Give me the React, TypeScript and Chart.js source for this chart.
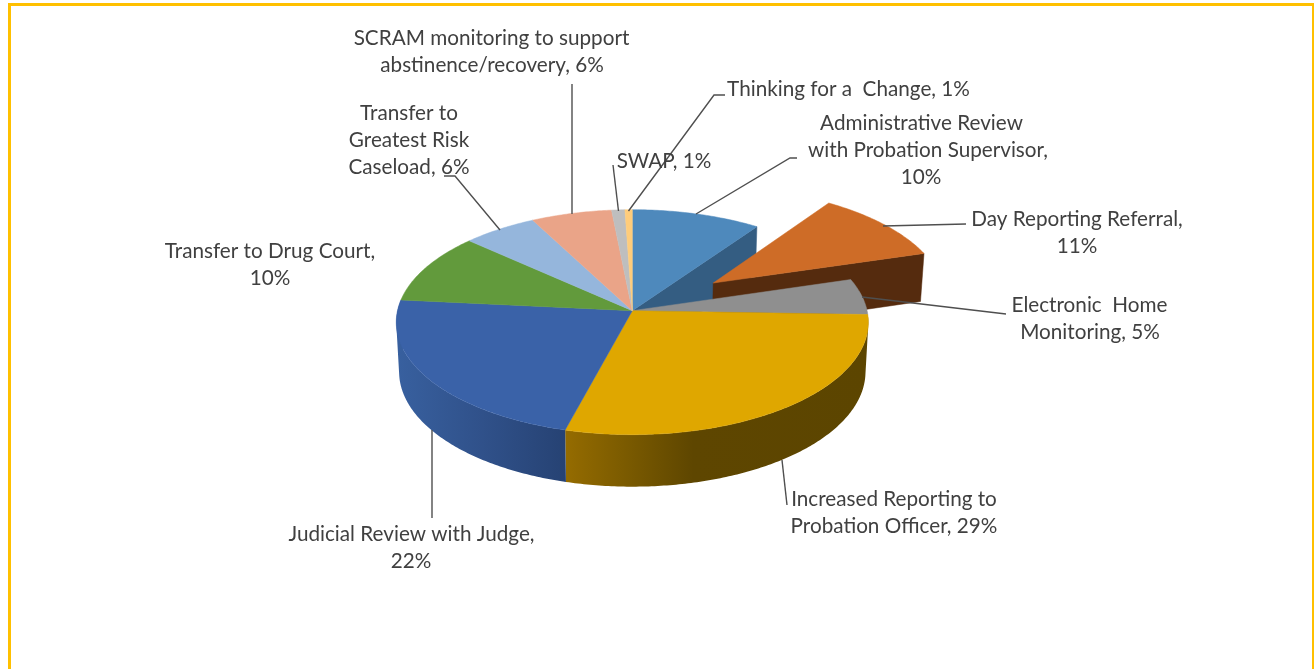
import React, { useEffect, useRef } from "react";
import { Chart, registerables } from "chart.js";

Chart.register(...registerables);

const categories = [
  "Administrative Review with Probation Supervisor",
  "Day Reporting Referral",
  "Electronic Home Monitoring",
  "Increased Reporting to Probation Officer",
  "Judicial Review with Judge",
  "Transfer to Drug Court",
  "Transfer to Greatest Risk Caseload",
  "SCRAM monitoring to support abstinence/recovery",
  "SWAP",
  "Thinking for a Change",
];
const shares = [9.75, 10.6, 5.2, 28.6, 22.4, 10.15, 5.65, 6.1, 1.0, 0.55];
const topColors = ["#4E89BC", "#CE6C27", "#8F8F8F", "#DFA700", "#3A62A8", "#629A3C", "#95B6DC", "#EAA488", "#BEBEBE", "#FFCC7A"];
const explodeAmount = [0, 0.436, 0, 0, 0, 0, 0, 0, 0, 0];

// Label text, line by line: [text, centre x, baseline y]
const labelLines: [string, number, number][] = [
  ["SCRAM monitoring to support", 491.5, 45],
  ["abstinence/recovery, 6%", 492, 72],
  ["Transfer to", 409, 120],
  ["Greatest Risk", 409, 147],
  ["Caseload, 6%", 409, 174],
  ["SWAP, 1%", 664, 168],
  ["Thinking for a  Change, 1%", 848.5, 96],
  ["Administrative Review", 921.5, 130],
  ["with Probation Supervisor,", 928, 157],
  ["10%", 921, 184],
  ["Day Reporting Referral,", 1077, 226],
  ["11%", 1077, 253],
  ["Electronic  Home", 1089.5, 312],
  ["Monitoring, 5%", 1090, 339],
  ["Increased Reporting to", 894, 506],
  ["Probation Officer, 29%", 894, 533],
  ["Judicial Review with Judge,", 411.5, 541],
  ["22%", 411, 568],
  ["Transfer to Drug Court,", 270, 258],
  ["10%", 270, 285],
];

const leaders: [number, number][][] = [
  [[696, 214], [790, 158], [797, 158]],
  [[883, 226], [966, 224]],
  [[862, 297], [1006, 314]],
  [[782, 460], [787, 505]],
  [[432, 430], [432, 518]],
  [[444, 176], [455, 176], [500, 230]],
  [[572, 84], [572, 214]],
  [[613, 165], [618.5, 211]],
  [[628.5, 211], [714, 95], [725, 95]],
];

// Camera of the tilted pie
const APEX = { x: 632.3, y: 310.7 };
const PERSP = 0.102;
const AY = 111.3;
const BX = 234.8;
const BOTTOM = { sx: 0.988, sy: 1.022, dy: 49.3 };

type P = [number, number];

function project(u: number, v: number, low: boolean): P {
  const w = 1 - PERSP * v;
  let x = (BX * u) / w;
  let y = (AY * v) / w;
  if (low) {
    x *= BOTTOM.sx;
    y = y * BOTTOM.sy + BOTTOM.dy;
  }
  return [APEX.x + x, APEX.y + y];
}

function rimPoints(a0: number, a1: number, cu: number, cv: number, low: boolean): P[] {
  const pts: P[] = [];
  const n = Math.max(2, Math.ceil(Math.abs(a1 - a0) / 0.012));
  for (let i = 0; i <= n; i++) {
    const a = a0 + ((a1 - a0) * i) / n;
    pts.push(project(cu + Math.cos(a), cv + Math.sin(a), low));
  }
  return pts;
}

function fillPoly(ctx: CanvasRenderingContext2D, pts: P[], fill: string | CanvasGradient) {
  ctx.beginPath();
  pts.forEach((p, i) => (i ? ctx.lineTo(p[0], p[1]) : ctx.moveTo(p[0], p[1])));
  ctx.closePath();
  ctx.fillStyle = fill;
  ctx.fill();
  ctx.strokeStyle = fill;
  ctx.lineWidth = 0.5;
  ctx.stroke();
}

function hGrad(ctx: CanvasRenderingContext2D, x0: number, x1: number, stops: [number, string][]) {
  const g = ctx.createLinearGradient(x0, 0, x1, 0);
  stops.forEach(([o, c]) => g.addColorStop(o, c));
  return g;
}

function signedArea(q: P[]) {
  let s = 0;
  q.forEach((p, i) => {
    const r = q[(i + 1) % q.length];
    s += p[0] * r[1] - r[0] * p[1];
  });
  return s;
}

const pie3d = {
  id: "pie3d",
  beforeDatasetDraw(chart: any) {
    const ctx: CanvasRenderingContext2D = chart.ctx;
    const arcs = chart.getDatasetMeta(0).data.map((el: any, i: number) => {
      const { startAngle, endAngle } = el.getProps(["startAngle", "endAngle"], true);
      const mid = (startAngle + endAngle) / 2;
      const e = explodeAmount[i];
      return { i, startAngle, endAngle, cu: Math.cos(mid) * e, cv: Math.sin(mid) * e, e };
    });

    const top = (a: any) => {
      const pts = [project(a.cu, a.cv, false), ...rimPoints(a.startAngle, a.endAngle, a.cu, a.cv, false)];
      fillPoly(ctx, pts, topColors[a.i]);
    };
    const endWall = (a: any, fill: string) => {
      const apexT = project(a.cu, a.cv, false);
      const apexB = project(a.cu, a.cv, true);
      const rimT = project(a.cu + Math.cos(a.endAngle), a.cv + Math.sin(a.endAngle), false);
      const rimB = project(a.cu + Math.cos(a.endAngle), a.cv + Math.sin(a.endAngle), true);
      fillPoly(ctx, [apexT, rimT, rimB, apexB], fill);
    };
    // The rim swept downwards: small quads, all wound the same way, so the
    // silhouette keeps its straight edge where the rim turns back.
    const sideWall = (a: any, fill: CanvasGradient) => {
      const t = rimPoints(a.startAngle, a.endAngle, a.cu, a.cv, false);
      const b = rimPoints(a.startAngle, a.endAngle, a.cu, a.cv, true);
      ctx.beginPath();
      for (let i = 0; i < t.length - 1; i++) {
        let q: P[] = [t[i], t[i + 1], b[i + 1], b[i]];
        if (signedArea(q) < 0) q = q.reverse();
        q.forEach((p, j) => (j ? ctx.lineTo(p[0], p[1]) : ctx.moveTo(p[0], p[1])));
        ctx.closePath();
      }
      ctx.fillStyle = fill;
      ctx.fill("nonzero");
    };

    const exploded = arcs.filter((a: any) => a.e > 0);
    const flat = arcs.filter((a: any) => a.e === 0);

    ctx.save();
    ctx.lineJoin = "round";
    endWall(arcs[0], "#345D82");
    exploded.forEach((a: any) => {
      endWall(a, "#552B0E");
      top(a);
    });
    sideWall(arcs[3], hGrad(ctx, 567, 868, [[0, "#946B00"], [0.2, "#7A5A00"], [0.42, "#5E4600"], [1, "#5C4500"]]));
    sideWall(arcs[4], hGrad(ctx, 397, 567, [[0, "#38609F"], [0.5, "#30518A"], [1, "#264273"]]));
    flat.forEach(top);
    ctx.restore();
    return false;
  },
  afterDraw(chart: any) {
    const ctx: CanvasRenderingContext2D = chart.ctx;
    ctx.save();
    ctx.strokeStyle = "#4F4F4F";
    ctx.lineWidth = 1.4;
    leaders.forEach((line) => {
      ctx.beginPath();
      line.forEach((p, i) => (i ? ctx.lineTo(p[0], p[1]) : ctx.moveTo(p[0], p[1])));
      ctx.stroke();
    });
    ctx.fillStyle = "#404040";
    ctx.font = '20.7px Lato, "Open Sans", sans-serif';
    ctx.textAlign = "center";
    ctx.textBaseline = "alphabetic";
    labelLines.forEach(([t, x, y]) => ctx.fillText(t, x, y));
    ctx.restore();
  },
};

export default function App() {
  const ref = useRef<HTMLCanvasElement>(null);
  useEffect(() => {
    const chart = new Chart(ref.current as HTMLCanvasElement, {
      type: "pie",
      data: {
        labels: categories,
        datasets: [{ data: shares, backgroundColor: topColors, borderWidth: 0 }],
      },
      options: {
        animation: false,
        responsive: false,
        plugins: { legend: { display: false }, tooltip: { enabled: false } },
      },
      plugins: [pie3d],
    } as any);
    return () => chart.destroy();
  }, []);
  return (
    <div style={{ position: "fixed", left: 0, top: 0, width: 1314, height: 669, overflow: "hidden", background: "#fff" }}>
      <canvas ref={ref} width={1314} height={669} style={{ position: "absolute", left: 0, top: 0, display: "block" }} />
      <div
        style={{
          position: "absolute",
          left: 8,
          top: 3,
          width: 1307,
          height: 700,
          boxSizing: "border-box",
          borderTop: "3px solid #FFC000",
          borderLeft: "3px solid #FFC000",
          borderRight: "3px solid #FFC000",
        }}
      />
    </div>
  );
}
